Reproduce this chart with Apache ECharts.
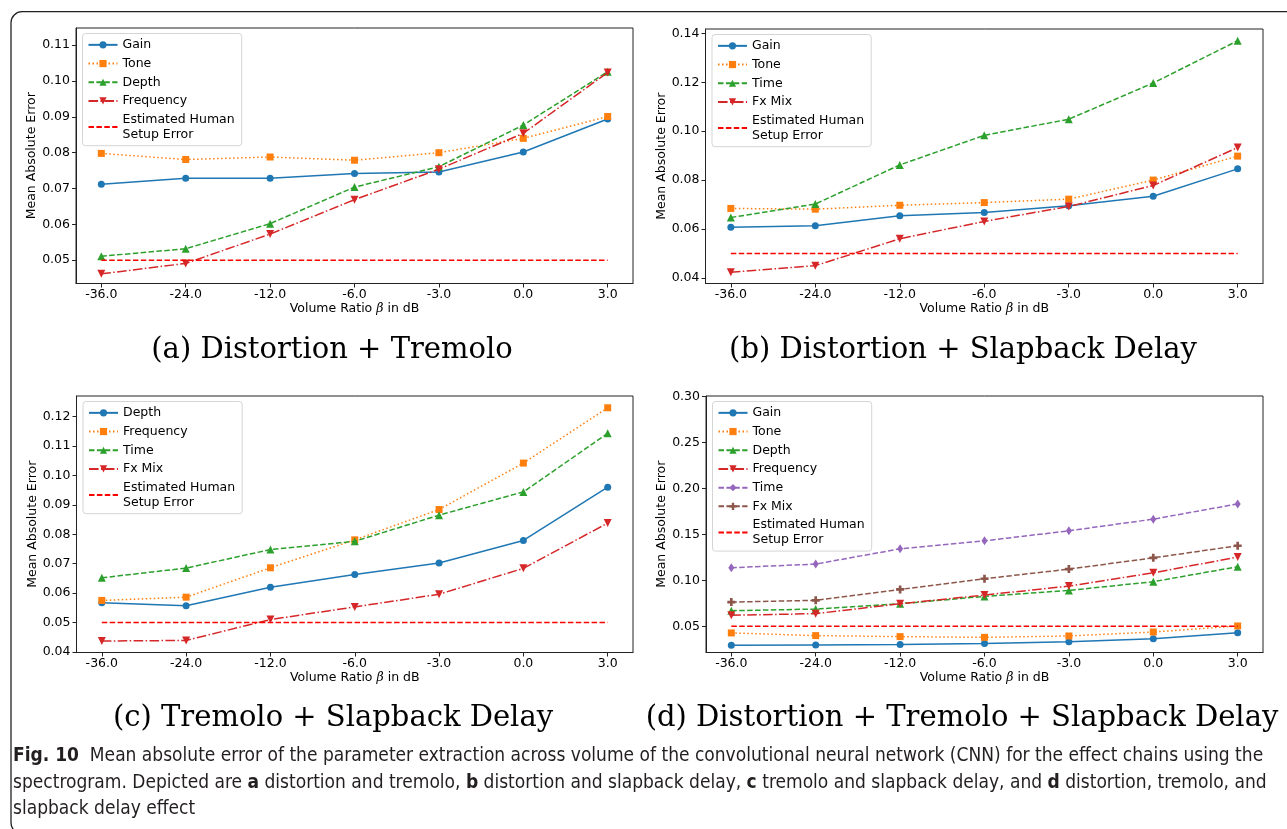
<!DOCTYPE html>
<html><head><meta charset="utf-8">
<script src="https://cdn.jsdelivr.net/npm/echarts@6/dist/echarts.min.js"></script>
<style>html,body{margin:0;padding:0;background:#fff}#c{width:1287px;height:829px}</style>
</head><body><div id="c"></div>
<script>
// ---------- data ----------
const volumeLabels = ['-36.0', '-24.0', '-12.0', '-6.0', '-3.0', '0.0', '3.0'];
const humanError = [0.05, 0.05, 0.05, 0.05, 0.05, 0.05, 0.05];

// (a) Distortion + Tremolo
const aGain      = [0.0712, 0.0729, 0.0729, 0.0742, 0.0746, 0.0802, 0.0894];
const aTone      = [0.0798, 0.0781, 0.0788, 0.0779, 0.0800, 0.0840, 0.0901];
const aDepth     = [0.0511, 0.0532, 0.0602, 0.0704, 0.0761, 0.0877, 0.1026];
const aFrequency = [0.0462, 0.0491, 0.0573, 0.0669, 0.0754, 0.0854, 0.1024];

// (b) Distortion + Slapback Delay
const bGain  = [0.0607, 0.0613, 0.0654, 0.0667, 0.0695, 0.0734, 0.0846];
const bTone  = [0.0684, 0.0681, 0.0697, 0.0708, 0.0722, 0.0800, 0.0898];
const bTime  = [0.0647, 0.0702, 0.0862, 0.0983, 0.1049, 0.1197, 0.1370];
const bFxMix = [0.0423, 0.0450, 0.0560, 0.0631, 0.0692, 0.0778, 0.0933];

// (c) Tremolo + Slapback Delay
const cDepth     = [0.0567, 0.0557, 0.0620, 0.0663, 0.0702, 0.0779, 0.0960];
const cFrequency = [0.0575, 0.0586, 0.0686, 0.0781, 0.0884, 0.1042, 0.1230];
const cTime      = [0.0652, 0.0685, 0.0748, 0.0776, 0.0865, 0.0944, 0.1143];
const cFxMix     = [0.0437, 0.0439, 0.0510, 0.0553, 0.0596, 0.0684, 0.0838];

// (d) Distortion + Tremolo + Slapback Delay
const dGain      = [0.0293, 0.0297, 0.0301, 0.0312, 0.0333, 0.0366, 0.0431];
const dTone      = [0.0428, 0.0399, 0.0388, 0.0380, 0.0395, 0.0438, 0.0504];
const dDepth     = [0.0670, 0.0688, 0.0746, 0.0826, 0.0891, 0.0986, 0.1149];
const dFrequency = [0.0620, 0.0638, 0.0746, 0.0841, 0.0938, 0.1083, 0.1254];
const dTime      = [0.1138, 0.1178, 0.1344, 0.1431, 0.1540, 0.1667, 0.1833];
const dFxMix     = [0.0764, 0.0783, 0.0902, 0.1018, 0.1123, 0.1246, 0.1377];

// y tick labels
const aTicks = [0.05, 0.06, 0.07, 0.08, 0.09, 0.10, 0.11];
const bTicks = [0.04, 0.06, 0.08, 0.10, 0.12, 0.14];
const cTicks = [0.04, 0.05, 0.06, 0.07, 0.08, 0.09, 0.10, 0.11, 0.12];
const dTicks = [0.05, 0.10, 0.15, 0.20, 0.25, 0.30];

const subTitles = ['(a) Distortion + Tremolo', '(b) Distortion + Slapback Delay',
                   '(c) Tremolo + Slapback Delay', '(d) Distortion + Tremolo + Slapback Delay'];
const humanLabel = 'Estimated Human\nSetup Error';

// ---------- styles ----------
const STY = {
  blue:   {color: '#1f77b4', type: 'solid', symbol: 'circle', size: 7, rot: 0},
  orange: {color: '#ff7f0e', type: [1.5, 2.5], symbol: 'rect', size: 7, rot: 0},
  green:  {color: '#2ca02c', type: [5.5, 2.4], symbol: 'triangle', size: 8, rot: 0},
  red:    {color: '#d62728', type: [9.6, 2.4, 1.5, 2.4], symbol: 'triangle', size: 8, rot: 180},
  purple: {color: '#9467bd', type: [5.5, 2.4], symbol: 'diamond', size: [6, 9], rot: 0},
  brown:  {color: '#8c564b', type: [5.5, 2.4], symbol: 'path://M1,0H2V1H3V2H2V3H1V2H0V1H1Z', size: 8, rot: 0},
  human:  {color: '#ff0000', type: [5.5, 2.4], symbol: 'circle', size: 0, rot: 0}
};

const panels = [
  {key: 'a', ticks: aTicks, min: 0.0435, max: 0.1148,
   grid: {left: 76, top: 28, width: 557, height: 255.5},
   series: [['Gain', aGain, 'blue'], ['Tone', aTone, 'orange'], ['Depth', aDepth, 'green'],
            ['Frequency', aFrequency, 'red'], [humanLabel, humanError, 'human']]},
  {key: 'b', ticks: bTicks, min: 0.0377, max: 0.1418,
   grid: {left: 705.5, top: 29, width: 557.5, height: 254.5},
   series: [['Gain', bGain, 'blue'], ['Tone', bTone, 'orange'], ['Time', bTime, 'green'],
            ['Fx Mix', bFxMix, 'red'], [humanLabel, humanError, 'human']]},
  {key: 'c', ticks: cTicks, min: 0.0398, max: 0.1270,
   grid: {left: 76.5, top: 396, width: 556.5, height: 256.5},
   series: [['Depth', cDepth, 'blue'], ['Frequency', cFrequency, 'orange'], ['Time', cTime, 'green'],
            ['Fx Mix', cFxMix, 'red'], [humanLabel, humanError, 'human']]},
  {key: 'd', ticks: dTicks, min: 0.0215, max: 0.3008,
   grid: {left: 706, top: 396, width: 557, height: 256.5},
   series: [['Gain', dGain, 'blue'], ['Tone', dTone, 'orange'], ['Depth', dDepth, 'green'],
            ['Frequency', dFrequency, 'red'], ['Time', dTime, 'purple'], ['Fx Mix', dFxMix, 'brown'],
            [humanLabel, humanError, 'human']]}
];

const FONT = 'DejaVu Sans';
const grids = [], xAxes = [], yAxes = [], series = [], legends = [];
const xIdx = volumeLabels.map((_, i) => i);

panels.forEach((p, pi) => {
  grids.push(Object.assign({show: true, borderColor: '#222', borderWidth: 1, backgroundColor: 'transparent'}, p.grid));
  xAxes.push({
    type: 'value', gridIndex: pi, min: -0.3, max: 6.3,
    name: 'Volume Ratio {i|β} in dB', nameLocation: 'middle', nameGap: 16,
    nameTextStyle: {fontFamily: FONT, fontSize: 12.5, color: '#000',
                    rich: {i: {fontFamily: 'DejaVu Serif', fontStyle: 'italic', fontSize: 12.5, color: '#000'}}},
    axisLine: {show: true, onZero: false, lineStyle: {color: '#222', width: 1}},
    axisTick: {show: true, length: 4, lineStyle: {color: '#222'}, customValues: xIdx},
    axisLabel: {show: true, margin: 5, fontFamily: FONT, fontSize: 12.5, color: '#000',
                customValues: xIdx, formatter: v => volumeLabels[Math.round(v)]},
    splitLine: {show: false}
  });
  yAxes.push({
    type: 'value', gridIndex: pi, min: p.min, max: p.max,
    name: 'Mean Absolute Error', nameLocation: 'middle', nameGap: 31,
    nameTextStyle: {fontFamily: FONT, fontSize: 12.5, color: '#000'},
    axisLine: {show: true, onZero: false, lineStyle: {color: '#222', width: 1}},
    axisTick: {show: true, length: 4, lineStyle: {color: '#222'}, customValues: p.ticks},
    axisLabel: {show: true, margin: 6, fontFamily: FONT, fontSize: 12.5, color: '#000',
                customValues: p.ticks, formatter: v => v.toFixed(2)},
    splitLine: {show: false}
  });
  const legendData = [];
  p.series.forEach(([label, vals, sk], si) => {
    const s = STY[sk];
    const name = p.key + '|' + label;
    series.push({
      type: 'line', name, xAxisIndex: pi, yAxisIndex: pi,
      data: vals.map((v, i) => [i, v]),
      symbol: s.symbol, symbolSize: s.size, symbolRotate: s.rot,
      showSymbol: sk !== 'human',
      lineStyle: {color: s.color, width: 1.5, type: s.type},
      itemStyle: {color: s.color},
      z: 2 + si, silent: true
    });
    const ld = {name};
    if (sk === 'human') ld.itemStyle = {opacity: 0};
    legendData.push(ld);
  });
  legends.push({
    data: legendData, orient: 'vertical', selectedMode: false,
    left: p.grid.left + 6.5, top: p.grid.top + 5.5,
    itemWidth: 29, itemHeight: 9, itemGap: 4,
    padding: [4, 7, 4, 5],
    backgroundColor: 'rgba(255,255,255,0.8)', borderColor: '#d5d5d5', borderWidth: 1, borderRadius: 3,
    textStyle: {fontFamily: FONT, fontSize: 12.5, color: '#000', lineHeight: 14.7},
    formatter: n => n.split('|')[1]
  });
});

const serif = 'DejaVu Serif';
const capFont = "'DejaVu Sans Condensed', 'Liberation Sans Narrow', sans-serif";
const CAP = 19;
const graphics = [
  {type: 'rect', shape: {x: 11, y: 11.7, width: 1400, height: 822, r: 11},
   style: {fill: 'none', stroke: '#222', lineWidth: 1.3}, silent: true},
  {type: 'text', x: 332, y: 350, style: {text: subTitles[0], font: '29px ' + serif, fill: '#000', align: 'center', verticalAlign: 'middle'}},
  {type: 'text', x: 963, y: 350, style: {text: subTitles[1], font: '29px ' + serif, fill: '#000', align: 'center', verticalAlign: 'middle'}},
  {type: 'text', x: 333, y: 718, style: {text: subTitles[2], font: '29px ' + serif, fill: '#000', align: 'center', verticalAlign: 'middle'}},
  {type: 'text', x: 962, y: 718, style: {text: subTitles[3], font: '29px ' + serif, fill: '#000', align: 'center', verticalAlign: 'middle'}},
  {type: 'text', x: 13, y: 756, style: {
    text: '{b|Fig. 10}  Mean absolute error of the parameter extraction across volume of the convolutional neural network (CNN) for the effect chains using the',
    fontFamily: capFont, fontSize: CAP, fill: '#231f20', verticalAlign: 'middle',
    rich: {b: {fontFamily: capFont, fontSize: CAP, fontWeight: 'bold', fill: '#231f20'}}}},
  {type: 'text', x: 13, y: 783, style: {
    text: 'spectrogram. Depicted are {b|a} distortion and tremolo, {b|b} distortion and slapback delay, {b|c} tremolo and slapback delay, and {b|d} distortion, tremolo, and',
    fontFamily: capFont, fontSize: CAP, fill: '#231f20', verticalAlign: 'middle',
    rich: {b: {fontFamily: capFont, fontSize: CAP, fontWeight: 'bold', fill: '#231f20'}}}},
  {type: 'text', x: 13, y: 809, style: {
    text: 'slapback delay effect',
    fontFamily: capFont, fontSize: CAP, fill: '#231f20', verticalAlign: 'middle'}}
];

const chart = echarts.init(document.getElementById('c'), null, {renderer: 'canvas'});
chart.setOption({
  animation: false,
  backgroundColor: '#fff',
  grid: grids, xAxis: xAxes, yAxis: yAxes, series, legend: legends,
  graphic: graphics
});
</script></body></html>
